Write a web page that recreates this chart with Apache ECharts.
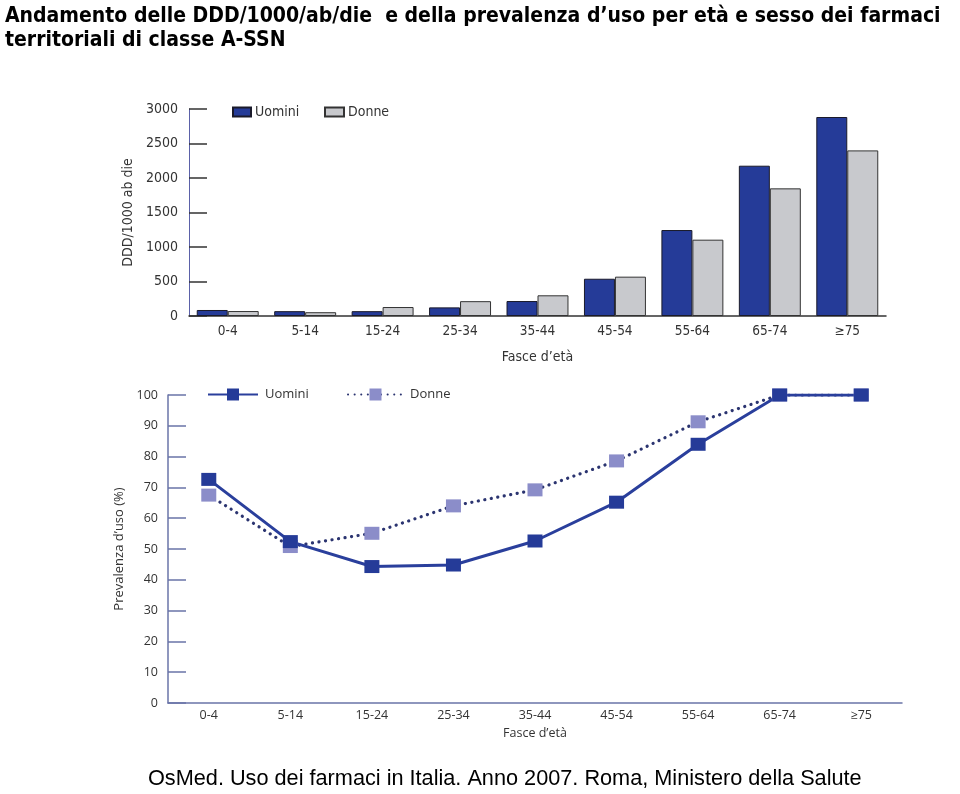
<!DOCTYPE html>
<html>
<head>
<meta charset="utf-8">
<script src="https://cdn.jsdelivr.net/npm/echarts@6/dist/echarts.min.js"></script>
<style>
html,body{margin:0;padding:0;background:#fff;}
#chart{width:960px;height:794px;}
</style>
</head>
<body>
<div id="chart"></div>
<script>
const ageGroups = ['0-4','5-14','15-24','25-34','35-44','45-54','55-64','65-74','\u226575'];
const dddMen = [87, 70, 70, 125, 217, 540, 1246, 2178, 2884];
const dddWomen = [72, 55, 130, 215, 300, 570, 1106, 1850, 2400];
const prevMen = [72.6, 52.4, 44.3, 44.8, 52.6, 65.2, 84, 100, 100];
const prevWomen = [67.5, 50.8, 55.1, 64, 69.2, 78.6, 91.3, 100, 100];
const seriesNames = ['Uomini', 'Donne'];
const titleText = "Andamento delle DDD/1000/ab/die  e della prevalenza d\u2019uso per et\u00e0 e sesso dei farmaci\nterritoriali di classe A-SSN";
const sourceText = "OsMed. Uso dei farmaci in Italia. Anno 2007. Roma, Ministero della Salute";

const barFont = 'DejaVu Sans Condensed';
const lineFont = 'Open Sans';
const menBlue = '#253b98';
const womenGrey = '#c8c9cd';
const womenLilac = '#8b8dc9';
const axisBlue = '#6a74a8';

const chart = echarts.init(document.getElementById('chart'));
const stripName = n => n.split('|')[0];
const plain = v => String(v);

chart.setOption({
  animation: false,
  backgroundColor: '#fff',
  title: {
    text: titleText, left: 0, top: 0,
    textStyle: { fontFamily: 'DejaVu Sans Condensed', fontWeight: 'bold', fontSize: 21, lineHeight: 24, color: '#000' }
  },
  graphic: [{
    type: 'text', left: 148, top: 768,
    style: { text: sourceText, font: '21.7px "Liberation Sans", Arial, sans-serif', fill: '#000' }
  }],
  legend: [
    { data: [{ name: seriesNames[0], icon: 'rect' }], left: 227, top: 100, itemWidth: 18, itemHeight: 9, itemGap: 0,
      textStyle: { fontFamily: barFont, fontSize: 14, color: '#333', padding: [0,0,0,-1] } },
    { data: [{ name: seriesNames[1], icon: 'rect' }], left: 319, top: 100, itemWidth: 19, itemHeight: 9, itemGap: 0,
      textStyle: { fontFamily: barFont, fontSize: 14, color: '#333', padding: [0,0,0,-1] } },
    { data: [seriesNames[0] + '|p'], formatter: stripName, left: 202, top: 383, itemWidth: 50, itemHeight: 15,
      textStyle: { fontFamily: lineFont, fontSize: 13, color: '#333', padding: [0,0,0,2] } },
    { data: [seriesNames[1] + '|p'], formatter: stripName, left: 342, top: 383, itemWidth: 55, itemHeight: 15,
      textStyle: { fontFamily: lineFont, fontSize: 13, color: '#333', padding: [0,0,0,2] } }
  ],
  grid: [
    { left: 189, right: 74, top: 109, height: 207 },
    { left: 168, right: 58, top: 395, height: 308 }
  ],
  xAxis: [
    { type: 'category', gridIndex: 0, data: ageGroups,
      name: "Fasce d\u2019et\u00e0", nameLocation: 'middle', nameGap: 34,
      nameTextStyle: { fontFamily: barFont, fontSize: 14, color: '#333' },
      axisLine: { lineStyle: { color: '#333', width: 1.5 } },
      axisTick: { inside: true, length: 6, lineStyle: { color: '#333', width: 1.5 } },
      axisLabel: { fontFamily: barFont, fontSize: 13.5, color: '#333', margin: 8 } },
    { type: 'category', gridIndex: 1, data: ageGroups,
      name: "Fasce d\u2019et\u00e0", nameLocation: 'middle', nameGap: 24,
      nameTextStyle: { fontFamily: lineFont, fontSize: 12.5, color: '#333' },
      axisLine: { lineStyle: { color: axisBlue, width: 1.5 } },
      axisTick: { inside: true, length: 8, lineStyle: { color: axisBlue, width: 1.5 } },
      axisLabel: { fontFamily: lineFont, fontSize: 12.5, color: '#333', margin: 6 } }
  ],
  yAxis: [
    { type: 'value', gridIndex: 0, min: 0, max: 3000, interval: 500,
      name: 'DDD/1000 ab die', nameLocation: 'middle', nameGap: 52, nameRotate: 90,
      nameTextStyle: { fontFamily: barFont, fontSize: 14, color: '#333' },
      splitLine: { show: false },
      axisLine: { show: true, lineStyle: { color: '#5b61a8', width: 1 } },
      axisTick: { show: true, inside: true, length: 18, lineStyle: { color: '#333', width: 1.5 } },
      axisLabel: { fontFamily: barFont, fontSize: 14, color: '#333', margin: 11, formatter: plain } },
    { type: 'value', gridIndex: 1, min: 0, max: 100, interval: 10,
      name: "Prevalenza d\u2019uso (%)", nameLocation: 'middle', nameGap: 40, nameRotate: 90,
      nameTextStyle: { fontFamily: lineFont, fontSize: 13, color: '#333' },
      splitLine: { show: false },
      axisLine: { show: true, lineStyle: { color: axisBlue, width: 1.5 } },
      axisTick: { show: true, inside: true, length: 18, lineStyle: { color: axisBlue, width: 1.5 } },
      axisLabel: { fontFamily: lineFont, fontSize: 12.5, color: '#333', margin: 10, formatter: plain } }
  ],
  series: [
    { name: seriesNames[0], type: 'bar', xAxisIndex: 0, yAxisIndex: 0, data: dddMen,
      barCategoryGap: '20%', barGap: '0%',
      itemStyle: { color: menBlue, borderColor: '#1a1a2a', borderWidth: 1 } },
    { name: seriesNames[1], type: 'bar', xAxisIndex: 0, yAxisIndex: 0, data: dddWomen,
      barCategoryGap: '20%', barGap: '0%',
      itemStyle: { color: womenGrey, borderColor: '#333', borderWidth: 1 } },
    { name: seriesNames[1] + '|p', type: 'line', xAxisIndex: 1, yAxisIndex: 1, data: prevWomen,
      symbol: 'rect', symbolSize: [15, 13],
      lineStyle: { color: '#2b3470', width: 3.2, type: [0.1, 6.5], cap: 'round' },
      itemStyle: { color: womenLilac } },
    { name: seriesNames[0] + '|p', type: 'line', xAxisIndex: 1, yAxisIndex: 1, data: prevMen,
      symbol: 'rect', symbolSize: [15, 13],
      lineStyle: { color: '#2a3f9c', width: 3 },
      itemStyle: { color: menBlue } }
  ]
});
</script>
</body>
</html>
